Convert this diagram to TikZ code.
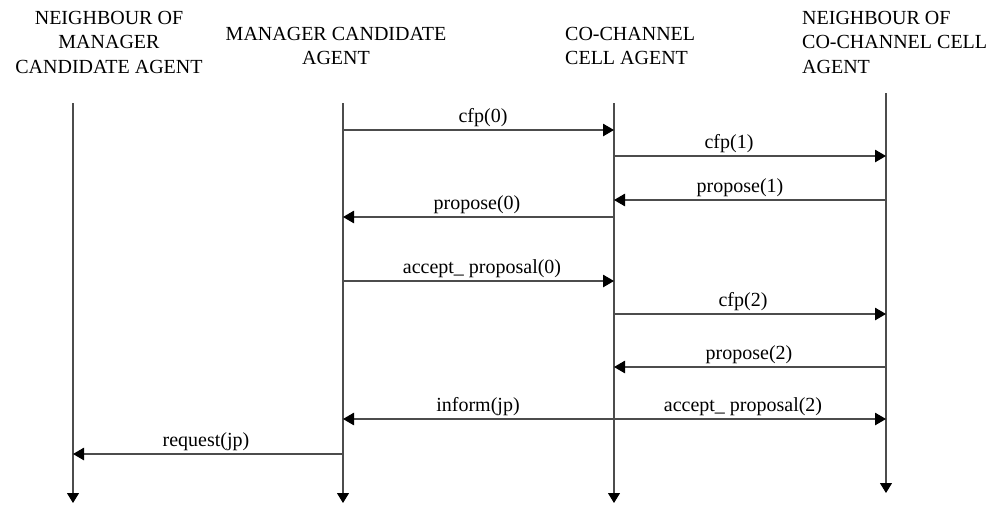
\documentclass[tikz,border=0pt]{standalone}
\usepackage{fontspec}
\setmainfont{Liberation Serif}
\usetikzlibrary{arrows.meta}
\begin{document}
\begin{tikzpicture}[x=1pt,y=-1pt,
  every node/.style={font=\fontsize{20}{24.5}\selectfont, inner sep=0pt},
  header/.style={anchor=north, align=center},
  headerleft/.style={anchor=north west, align=left},
  tip/.style={Triangle[length=11pt,width=12.5pt,color=black]},
  lifeline/.style={draw=black!70, line width=1.1pt, -{Triangle[length=10pt,width=12pt,color=black]}},
  msg/.style={draw=black!70, line width=1.1pt, -{Triangle[length=11pt,width=12.5pt,color=black]}},
  bimsg/.style={draw=black!70, line width=1.1pt, {Triangle[length=11pt,width=12.5pt,color=black]}-{Triangle[length=11pt,width=12.5pt,color=black]}},
  lbl/.style={anchor=base}]
  \useasboundingbox (0,0) rectangle (994,504);

  % agent headings
  \node[header] (h1) at (109,11) {NEIGHBOUR OF\\MANAGER\\CANDIDATE AGENT};
  \node[header] (h2) at (336,27) {MANAGER CANDIDATE\\AGENT};
  \node[headerleft] (h3) at (565,27) {CO-CHANNEL\\CELL AGENT};
  \node[headerleft] (h4) at (802,11) {NEIGHBOUR OF\\CO-CHANNEL CELL\\AGENT};

  % lifelines
  \coordinate (nm) at (73,103);   \coordinate (nmEnd) at (73,503);
  \coordinate (mc) at (343,103);  \coordinate (mcEnd) at (343,503);
  \coordinate (cc) at (614,103);  \coordinate (ccEnd) at (614,503);
  \coordinate (nc) at (886,93);   \coordinate (ncEnd) at (886,493);
  \draw[lifeline] (nm) -- (nmEnd);
  \draw[lifeline] (mc) -- (mcEnd);
  \draw[lifeline] (cc) -- (ccEnd);
  \draw[lifeline] (nc) -- (ncEnd);

  % messages
  \draw[msg] (mc |- 0,130) -- (cc |- 0,130);
  \node[lbl] (l1) at (483,122) {cfp(0)};
  \draw[msg] (cc |- 0,156) -- (nc |- 0,156);
  \node[lbl] (l2) at (729,148) {cfp(1)};
  \draw[msg] (nc |- 0,200) -- (cc |- 0,200);
  \node[lbl] (l3) at (740,192) {propose(1)};
  \draw[msg] (cc |- 0,217) -- (mc |- 0,217);
  \node[lbl] (l4) at (477,209) {propose(0)};
  \draw[msg] (mc |- 0,281) -- (cc |- 0,281);
  \node[lbl] (l5) at (482,273) {accept\_ proposal(0)};
  \draw[msg] (cc |- 0,314) -- (nc |- 0,314);
  \node[lbl] (l6) at (743,306) {cfp(2)};
  \draw[msg] (nc |- 0,367) -- (cc |- 0,367);
  \node[lbl] (l7) at (749,359) {propose(2)};
  \draw[bimsg] (mc |- 0,419) -- (nc |- 0,419);
  \node[lbl] (l8) at (478,411) {inform(jp)};
  \node[lbl] (l9) at (743,411) {accept\_ proposal(2)};
  \draw[msg] (mc |- 0,454) -- (nm |- 0,454);
  \node[lbl] (l10) at (206,446) {request(jp)};
\end{tikzpicture}
\end{document}
